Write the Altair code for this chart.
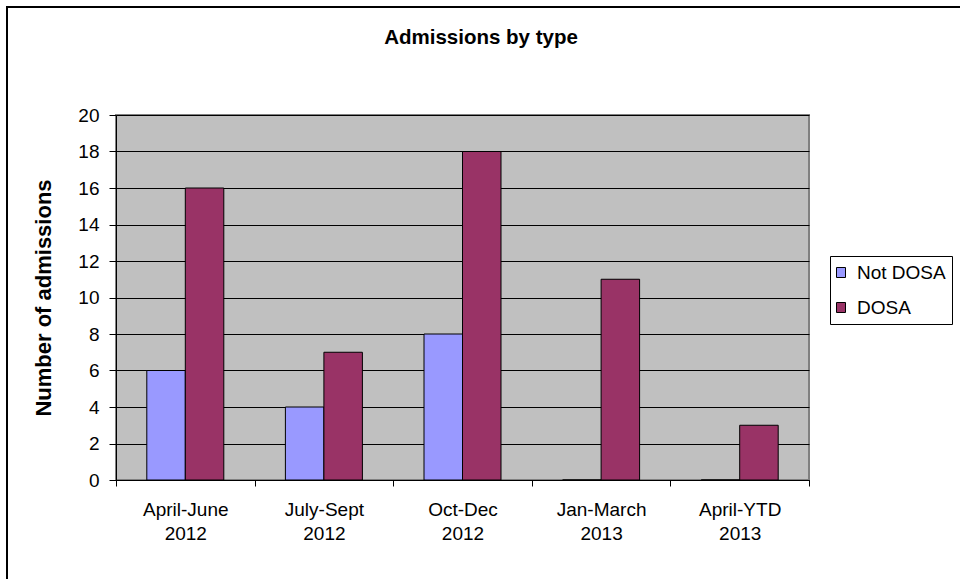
import altair as alt
import pandas as pd

# ---- data ----
chart_title = "Admissions by type"
y_title = "Number of admissions"
periods = ["April-June", "July-Sept", "Oct-Dec", "Jan-March", "April-YTD"]
years = ["2012", "2012", "2012", "2013", "2013"]
series = ["Not DOSA", "DOSA"]
not_dosa = [6, 4, 8, 0, 0]
dosa = [16, 7, 18, 11, 3]
y_ticks = [0, 2, 4, 6, 8, 10, 12, 14, 16, 18, 20]
colors = ["#9999FF", "#993366"]

categories = [p + "\n" + y for p, y in zip(periods, years)]
records = []
for cat, a, b in zip(categories, not_dosa, dosa):
    records.append({"period": cat, "type": series[0], "count": a})
    records.append({"period": cat, "type": series[1], "count": b})
df = pd.DataFrame(records)

W, H = 693, 365
LEFT, TOP = 116, 115
FONT = "Liberation Sans"
legend_square = "M-1,-0.5H-0.1V0.5H-1Z"

bars = alt.Chart(df).mark_bar(stroke="black", strokeWidth=1).encode(
    x=alt.X(
        "period:N", sort=categories, title=None,
        scale=alt.Scale(paddingInner=0, paddingOuter=0),
        axis=alt.Axis(
            labelExpr="isValid(datum.value) ? split(datum.value, '\\n') : ''",
            labelAngle=0, labelFontSize=19,
            labelLineHeight=24, labelPadding=14, labelBaseline="top",
            tickBand="extent", tickSize=6, tickColor="black", domainColor="black",
            grid=False, labelColor="black",
        ),
    ),
    xOffset=alt.XOffset("type:N", sort=series,
                        scale=alt.Scale(paddingInner=0, paddingOuter=0.8)),
    y=alt.Y(
        "count:Q", scale=alt.Scale(domain=[0, 20], nice=False),
        axis=alt.Axis(
            values=y_ticks, title=y_title, titleFontSize=22, titleFontWeight="bold",
            titleX=-73, titleY=H / 2, titleAngle=270, titleAlign="center",
            titleBaseline="middle", titleColor="black",
            labelFontSize=19, labelPadding=10, tickSize=7, labelColor="black",
            gridColor="black", gridOpacity=1, gridWidth=1,
            domainColor="black", tickColor="black",
        ),
    ),
    color=alt.Color(
        "type:N", sort=series, scale=alt.Scale(domain=series, range=colors),
        legend=alt.Legend(
            title=None, orient="none", legendX=714, legendY=141,
            strokeColor="black", fillColor="white", padding=6,
            symbolType=legend_square, symbolSize=400,
            symbolStrokeColor="black", symbolStrokeWidth=1,
            labelFontSize=19, labelOffset=0, rowPadding=14, labelColor="black",
        ),
    ),
)

title_mark = alt.Chart(alt.Data(values=[{"t": chart_title}])).mark_text(
    fontSize=20.5, fontWeight="bold", font=FONT, baseline="alphabetic",
    align="center", color="black",
).encode(text="t:N", x=alt.value(481 - LEFT), y=alt.value(44 - TOP))

frame = alt.Chart(alt.Data(values=[{"f": 1}])).mark_rect(
    fillOpacity=0, stroke="black", strokeWidth=2,
).encode(x=alt.value(7 - LEFT), x2=alt.value(1000), y=alt.value(7 - TOP), y2=alt.value(700))

chart = alt.layer(frame, bars, title_mark).properties(
    width=W, height=H,
    autosize=alt.AutoSizeParams(type="none"),
    padding={"left": LEFT, "top": TOP, "right": 960 - LEFT - W, "bottom": 579 - TOP - H},
    background="white",
).configure(font=FONT).configure_view(
    fill="#C0C0C0", stroke="#808080", strokeWidth=2,
)

chart.save("out.html", embed_options={"renderer": "svg", "actions": False})
